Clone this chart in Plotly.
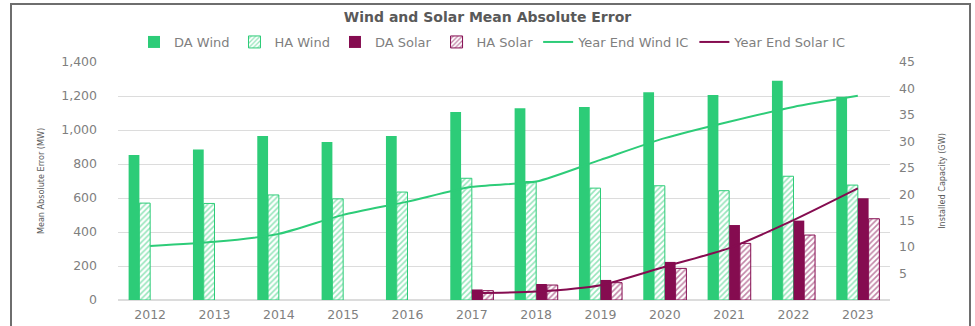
import plotly.graph_objects as go

years = [str(y) for y in range(2012, 2024)]

# Mean absolute error (MW)
da_wind = [853, 886, 964, 930, 965, 1106, 1128, 1136, 1222, 1206, 1290, 1196]
ha_wind = [570, 568, 618, 595, 635, 716, 697, 658, 672, 643, 728, 676]
da_solar = [None, None, None, None, None, 62, 94, 118, 224, 441, 467, 598]
ha_solar = [None, None, None, None, None, 55, 88, 102, 186, 333, 382, 478]

# Year-end installed capacity (GW)
wind_ic = [10.2, 11.0, 12.5, 16.1, 18.6, 21.4, 22.4, 26.5, 30.6, 33.7, 36.5, 38.6]
solar_ic = [None, None, None, None, None, 1.3, 1.6, 2.8, 6.3, 9.8, 15.1, 21.1]

GREEN = "#2DCC78"
MAROON = "#850C50"
GRID = "#DCDCDC"
TXT = "#7F7F7F"
FONT = "DejaVu Sans, sans-serif"
NARROW = "DejaVu Sans Condensed, Liberation Sans Narrow, sans-serif"
FS = 12.5

fig = go.Figure()

fig.add_trace(go.Bar(x=years, y=da_wind, name="DA Wind",
                     marker=dict(color=GREEN, line=dict(width=0))))
fig.add_trace(go.Bar(x=years, y=ha_wind, name="HA Wind",
                     marker=dict(color="white", line=dict(color=GREEN, width=1),
                                 pattern=dict(shape="/", fgcolor=GREEN, bgcolor="white",
                                              size=4, solidity=0.4))))
fig.add_trace(go.Bar(x=years, y=da_solar, name="DA Solar",
                     marker=dict(color=MAROON, line=dict(width=0))))
fig.add_trace(go.Bar(x=years, y=ha_solar, name="HA Solar",
                     marker=dict(color="white", line=dict(color=MAROON, width=1),
                                 pattern=dict(shape="/", fgcolor=MAROON, bgcolor="white",
                                              size=4, solidity=0.4))))

fig.add_trace(go.Scatter(x=years, y=wind_ic, name="Year End Wind IC", yaxis="y2",
                         mode="lines", line=dict(color=GREEN, width=2, shape="spline",
                                                 smoothing=0.6)))
fig.add_trace(go.Scatter(x=years, y=solar_ic, name="Year End Solar IC", yaxis="y2",
                         mode="lines", line=dict(color=MAROON, width=2, shape="spline",
                                                 smoothing=0.6)))

L, R, T, B = 118, 85, 62, 26
W, H = 975, 326
pw, ph = W - L - R, H - T - B

fig.update_layout(
    width=W, height=H,
    margin=dict(l=L, r=R, t=T, b=B, autoexpand=False),
    paper_bgcolor="white", plot_bgcolor="white",
    font=dict(family=FONT, color=TXT, size=FS),
    barmode="group", bargap=0.33, bargroupgap=0,
    title=dict(text="<b>Wind and Solar Mean Absolute Error</b>",
               x=0.5, xanchor="center", y=1 - 17 / H, yanchor="middle",
               font=dict(size=14, color="#595959", family=FONT)),
    legend=dict(orientation="h", x=(493 - L) / pw, xanchor="center",
                y=(H - B - 42) / ph, yanchor="middle",
                font=dict(size=13, color=TXT), traceorder="normal",
                itemwidth=30, bgcolor="rgba(0,0,0,0)"),
    xaxis=dict(type="category", showgrid=False, showline=False, automargin=False,
               ticks="", ticklabelstandoff=5, tickfont=dict(size=FS, color=TXT)),
    yaxis=dict(range=[0, 1400], dtick=200, tickformat=",", showgrid=True,
               gridcolor=GRID, gridwidth=1, zeroline=True, zerolinecolor=GRID,
               showline=False, ticks="", ticklabelstandoff=20, automargin=False,
               tickfont=dict(size=FS, color=TXT),
               title=dict(text="Mean Absolute Error (MW)", standoff=15,
                          font=dict(size=9, color="#595959", family=NARROW))),
    yaxis2=dict(range=[0, 45], tickvals=[5, 10, 15, 20, 25, 30, 35, 40, 45],
                overlaying="y", side="right", showgrid=False, zeroline=False,
                showline=False, ticks="", ticklabelstandoff=8, automargin=False,
                tickfont=dict(size=FS, color=TXT),
                title=dict(text="Installed Capacity (GW)", standoff=24,
                           font=dict(size=9, color="#595959", family=NARROW))),
    showlegend=True,
)

# chart frame
fig.add_shape(type="rect", xref="paper", yref="paper",
              x0=(11 - L) / pw, x1=(970 - L) / pw,
              y0=(H - B - 330) / ph, y1=(H - B - 4) / ph,
              line=dict(color="#6E6E6E", width=2), fillcolor="rgba(0,0,0,0)", layer="below")

fig.write_html("out.html")
